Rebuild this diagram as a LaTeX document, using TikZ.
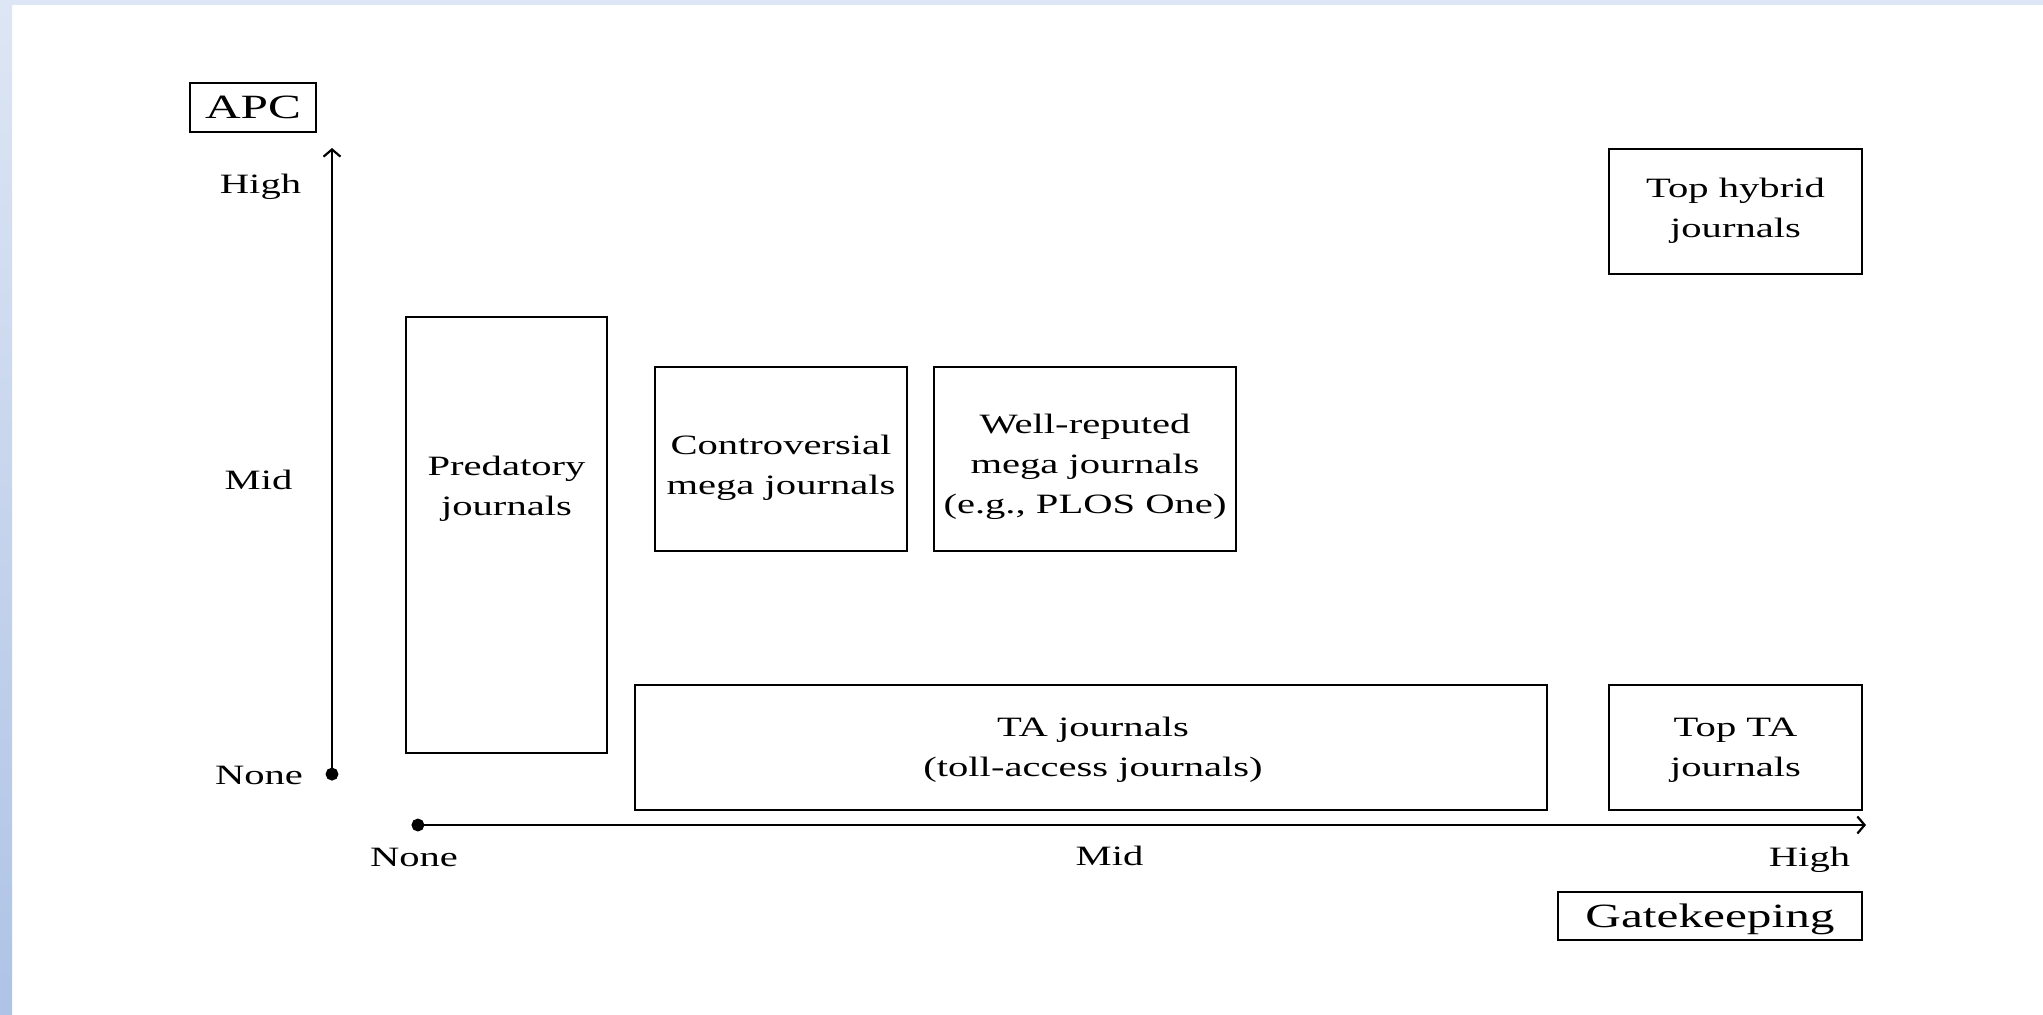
\documentclass[tikz,border=0pt]{standalone}
\usepackage{fontspec}
\setmainfont[FakeStretch=1.45]{Liberation Serif}
\usetikzlibrary{arrows.meta,fit}
\definecolor{stripA}{HTML}{DDE6F4}
\definecolor{stripB}{HTML}{AEC3E6}
\newcommand{\sline}{\strut}
\begin{document}
\begin{tikzpicture}[x=0.5pt,y=-0.5pt,
  box/.style={draw=black, line width=1pt, inner sep=0pt},
  txt/.style={font=\fontsize{14}{20}\selectfont, align=center, inner sep=0pt},
  lbl/.style={font=\fontsize{14}{20}\selectfont, inner sep=0pt, anchor=base},
  ttl/.style={draw=black, line width=1pt, font=\fontsize{17}{20}\selectfont, inner sep=0pt, text depth=0pt},
  axis/.style={line width=1.15pt, {Circle[length=6.4pt]}-{Straight Barb[length=3.6pt,width=8.5pt,line width=1.1pt]}}
]
\useasboundingbox (0,0) rectangle (2043,1014);
\fill[white] (0,0) rectangle (2043,1014);
\fill[stripA] (0,0) rectangle (2043,5);
\shade[top color=stripA, bottom color=stripB] (0,0) rectangle (12,1014);

% title boxes
\node[ttl, minimum width=63pt, minimum height=24.5pt] (apc) at (253,107.5) {APC};
\node[ttl, minimum width=152pt, minimum height=24pt] (gate) at (1710,916) {Gatekeeping};

% axes
\coordinate (yorig) at (332,780.5);
\coordinate (ytip) at (332,148);
\coordinate (xorig) at (411.5,825);
\coordinate (xtip) at (1866,825);
\draw[axis] (yorig) -- (ytip);
\draw[axis] (xorig) -- (xtip);

% axis labels
\node[lbl] (yhigh) at (260.5,193) {High};
\node[lbl] (ymid) at (258.5,489) {Mid};
\node[lbl] (ynone) at (259,784) {None};
\node[lbl] (xnone) at (414,866) {None};
\node[lbl] (xmid) at (1109.5,865) {Mid};
\node[lbl] (xhigh) at (1809.5,866) {High};

% boxes
\node[box, fit={(406,317) (607,753)}] (pred) {};
\node[box, fit={(655,367) (907,551)}] (contro) {};
\node[box, fit={(934,367) (1236,551)}] (wellrep) {};
\node[box, fit={(635,685) (1547,810)}] (ta) {};
\node[box, fit={(1609,685) (1862,810)}] (topta) {};
\node[box, fit={(1609,149) (1862,274)}] (tophyb) {};

% box texts
\node[txt] (predt) at (506.5,487) {\sline Predatory\\\sline journals};
\node[txt] (controt) at (781,466) {\sline Controversial\\\sline mega journals};
\node[txt] (wellrept) at (1085,465) {\sline Well-reputed\\\sline mega journals\\\sline (e.g., PLOS One)};
\node[txt] (tat) at (1093,748.5) {\sline TA journals\\\sline (toll-access journals)};
\node[txt] (toptat) at (1735.5,748.5) {\sline Top TA\\\sline journals};
\node[txt] (tophybt) at (1735.5,209) {\sline Top hybrid\\\sline journals};
\end{tikzpicture}
\end{document}
